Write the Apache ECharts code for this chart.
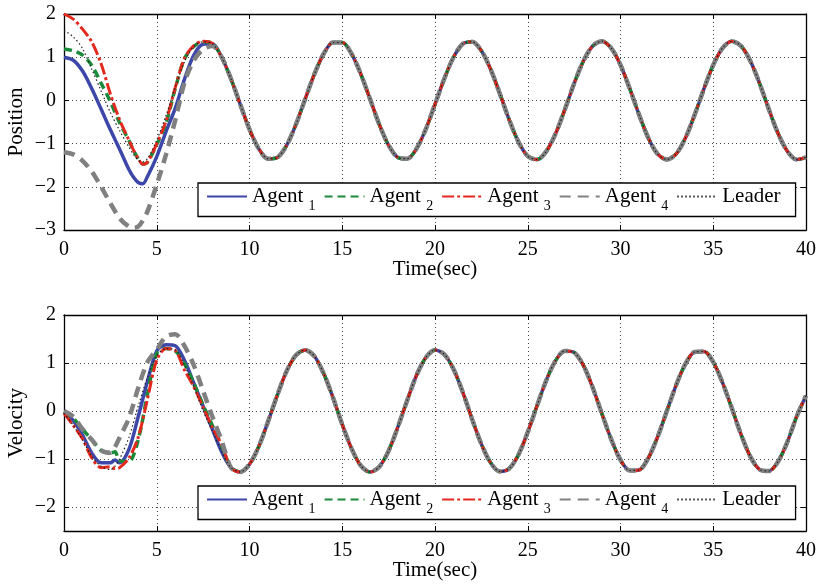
<!DOCTYPE html>
<html>
<head>
<meta charset="utf-8">
<script src="https://cdn.jsdelivr.net/npm/echarts@6/dist/echarts.min.js"></script>
<style>
  html, body { margin: 0; background: #fff; }
  #chart { width: 816px; height: 585px; }
</style>
</head>
<body>
<div id="chart"></div>
<script>
// ---- data ----
const seriesNames = ["Agent1", "Agent2", "Agent3", "Agent4", "Leader"];

// position panel
const posTimeEarly = [0, 0.5, 1, 1.5, 2, 2.5, 3, 3.5, 3.75, 4, 4.25, 4.5, 5, 5.5, 6, 6.5, 7, 7.5, 8];
const agent1PosEarly = [1.00, 0.93, 0.68, 0.27, -0.20, -0.68, -1.13, -1.60, -1.78, -1.90, -1.93, -1.76, -1.30, -0.72, -0.18, 0.50, 1.05, 1.30, 1.31];
const agent2PosEarly = [1.19, 1.15, 1.05, 0.81, 0.40, -0.03, -0.52, -0.93, -1.16, -1.35, -1.47, -1.43, -1.02, -0.53, 0.28, 0.97, 1.25, 1.36, 1.32];
const agent3PosEarly = [2.00, 1.88, 1.65, 1.35, 0.85, 0.15, -0.45, -0.92, -1.15, -1.35, -1.48, -1.43, -1.00, -0.48, 0.30, 0.98, 1.27, 1.37, 1.32];
const agent4PosEarly = [-1.20, -1.25, -1.40, -1.65, -2.00, -2.38, -2.73, -2.92, -2.95, -2.92, -2.78, -2.57, -1.95, -1.25, -0.45, 0.42, 0.93, 1.18, 1.26];
const leaderPosEarly = [1.62, 1.47, 1.20, 0.72, 0.22, -0.28, -0.70, -1.08, -1.25, -1.38, -1.42, -1.35, -0.92, -0.35, 0.30, 0.90, 1.25, 1.36, 1.31];
// after ~8 s every curve sits on the leader
const posTimeSteady = [8.5, 9, 9.5, 10, 10.5, 11, 11.5, 12, 12.5, 13, 13.5, 14, 14.5, 15, 15.5, 16, 16.5, 17, 17.5, 18, 18.5, 19, 19.5, 20,
  20.5, 21, 21.5, 22, 22.5, 23, 23.5, 24, 24.5, 25, 25.5, 26, 26.5, 27, 27.5, 28, 28.5, 29, 29.5, 30,
  30.5, 31, 31.5, 32, 32.5, 33, 33.5, 34, 34.5, 35, 35.5, 36, 36.5, 37, 37.5, 38, 38.5, 39, 39.5, 40];
const posSteady = [1.00, 0.50, -0.09, -0.67, -1.12, -1.35, -1.32, -1.04, -0.56, 0.03, 0.61, 1.08, 1.34, 1.34, 1.08, 0.61, 0.03, -0.56, -1.04, -1.32, -1.35, -1.12, -0.67, -0.09,
  0.50, 1.00, 1.31, 1.36, 1.15, 0.72, 0.15, -0.45, -0.96, -1.29, -1.37, -1.18, -0.77, -0.21, 0.39, 0.91, 1.26, 1.37, 1.21, 0.82,
  0.27, -0.33, -0.87, -1.24, -1.37, -1.24, -0.87, -0.33, 0.27, 0.82, 1.21, 1.37, 1.26, 0.91, 0.39, -0.21, -0.77, -1.18, -1.37, -1.32];

// velocity panel
const velTimeEarly = [0, 0.5, 1, 1.5, 2, 2.5, 2.75, 3, 3.5, 4, 4.5, 5, 5.5, 6, 6.5, 7, 7.5, 8, 8.5];
const agent1VelEarly = [-0.02, -0.20, -0.50, -0.88, -1.08, -1.08, -1.02, -1.08, -0.80, -0.12, 0.62, 1.25, 1.38, 1.36, 1.05, 0.58, 0.10, -0.38, -0.85];
const agent2VelEarly = [-0.02, -0.15, -0.38, -0.60, -0.82, -0.88, -0.85, -1.04, -1.05, -0.60, 0.35, 1.20, 1.30, 1.25, 0.98, 0.58, 0.12, -0.30, -0.72];
const agent3VelEarly = [-0.05, -0.30, -0.58, -0.98, -1.18, -1.16, -1.20, -1.18, -0.98, -0.55, 0.25, 1.06, 1.30, 1.26, 0.85, 0.50, 0.08, -0.35, -0.70];
const agent4VelEarly = [0.00, -0.12, -0.38, -0.60, -0.82, -0.87, -0.75, -0.55, -0.15, 0.48, 1.02, 1.28, 1.55, 1.60, 1.35, 0.95, 0.42, -0.12, -0.62];
const leaderVelEarly = [-0.05, -0.30, -0.60, -0.95, -1.15, -1.22, -1.15, -1.00, -0.55, 0.10, 0.70, 1.15, 1.30, 1.27, 0.95, 0.50, 0.00, -0.42, -0.85];
const velTimeSteady = [9, 9.5, 10, 10.5, 11, 11.5, 12, 12.5, 13, 13.5, 14, 14.5, 15, 15.5, 16, 16.5, 17, 17.5, 18, 18.5, 19, 19.5, 20,
  20.5, 21, 21.5, 22, 22.5, 23, 23.5, 24, 24.5, 25, 25.5, 26, 26.5, 27, 27.5, 28, 28.5, 29, 29.5, 30,
  30.5, 31, 31.5, 32, 32.5, 33, 33.5, 34, 34.5, 35, 35.5, 36, 36.5, 37, 37.5, 38, 38.5, 39, 39.5, 40];
const velSteady = [-1.18, -1.27, -1.11, -0.74, -0.22, 0.33, 0.83, 1.16, 1.27, 1.14, 0.78, 0.28, -0.28, -0.78, -1.14, -1.27, -1.16, -0.83, -0.33, 0.22, 0.74, 1.11, 1.27,
  1.18, 0.87, 0.39, -0.17, -0.69, -1.08, -1.26, -1.20, -0.91, -0.44, 0.11, 0.64, 1.05, 1.25, 1.22, 0.95, 0.49, -0.06, -0.59, -1.02,
  -1.24, -1.23, -0.98, -0.54, 0.00, 0.54, 0.98, 1.23, 1.24, 1.02, 0.59, 0.06, -0.49, -0.95, -1.22, -1.25, -1.05, -0.64, -0.11, 0.32];

// ---- styles ----
const FONT = "Liberation Serif";
const lineStyles = [
  { color: "#3d46a9", width: 3.5, type: "solid" },
  { color: "#1b8a3a", width: 3.5, type: [8, 5] },
  { color: "#e3281e", width: 3, type: [12, 3, 3, 3] },
  { color: "#808080", width: 4.5, type: [11, 7] },
  { color: "#222222", width: 1.2, type: [1.5, 2.5] }
];

function toPairs(times, values) {
  return times.map((t, i) => [t, values[i]]);
}

const posData = [agent1PosEarly, agent2PosEarly, agent3PosEarly, agent4PosEarly, leaderPosEarly]
  .map(early => toPairs(posTimeEarly.concat(posTimeSteady), early.concat(posSteady)));
const velData = [agent1VelEarly, agent2VelEarly, agent3VelEarly, agent4VelEarly, leaderVelEarly]
  .map(early => toPairs(velTimeEarly.concat(velTimeSteady), early.concat(velSteady)));

const minus = v => String(v).replace("-", "\u2212");

function xAxes(gridIndex) {
  const common = {
    gridIndex, type: "value", min: 0, max: 40, interval: 5,
    axisLine: { show: true, onZero: false, lineStyle: { color: "#000", width: 1.3 } },
    axisTick: { inside: true, length: 5, lineStyle: { color: "#000" } }
  };
  return [
    Object.assign({}, common, {
      position: "bottom",
      axisLabel: { color: "#000", fontFamily: FONT, fontSize: 20, margin: 10 },
      splitLine: { show: true, lineStyle: { color: "#444", width: 1, type: [1, 3] } },
      name: "Time(sec)", nameLocation: "middle", nameGap: 29, nameMoveOverlap: false,
      nameTextStyle: { color: "#000", fontFamily: FONT, fontSize: 21 }
    }),
    Object.assign({}, common, { position: "top", axisLabel: { show: false }, splitLine: { show: false } })
  ];
}

function yAxes(gridIndex, min, max, name) {
  const common = {
    gridIndex, type: "value", min, max,
    axisLine: { show: true, onZero: false, lineStyle: { color: "#000", width: 1.3 } },
    axisTick: { inside: true, length: 5, lineStyle: { color: "#000" } }
  };
  return [
    Object.assign({}, common, {
      position: "left",
      axisLabel: { color: "#000", fontFamily: FONT, fontSize: 20, margin: 8, formatter: minus, showMinLabel: min === -3 },
      splitLine: { show: true, lineStyle: { color: "#444", width: 1, type: [1, 3] } },
      name, nameLocation: "middle", nameGap: 37, nameMoveOverlap: false,
      nameTextStyle: { color: "#000", fontFamily: FONT, fontSize: 21 }
    }),
    Object.assign({}, common, { position: "right", axisLabel: { show: false }, splitLine: { show: false } })
  ];
}

function legendAt(top) {
  return {
    top, left: 198,
    orient: "horizontal",
    data: seriesNames,
    selectedMode: false,
    itemWidth: 40, itemHeight: 14, itemGap: 8,
    padding: [3, 15, 3, 8],
    borderColor: "#000", borderWidth: 1.3, backgroundColor: "#fff",
    itemStyle: { opacity: 0 },
    formatter: name => name === "Leader" ? "{a|Leader}" : "{a|Agent }{s|" + name.slice(5) + "}",
    textStyle: {
      color: "#000",
      rich: {
        a: { fontFamily: FONT, fontSize: 21, color: "#000" },
        s: { fontFamily: FONT, fontSize: 14, color: "#000", padding: [20, 0, 0, 0] }
      }
    }
  };
}

const series = [];
[posData, velData].forEach((panel, p) => {
  panel.forEach((data, i) => {
    series.push({
      name: seriesNames[i], type: "line",
      xAxisIndex: p * 2, yAxisIndex: p * 2,
      data, smooth: 0.3, symbol: "none",
      lineStyle: lineStyles[i], itemStyle: { color: lineStyles[i].color },
      z: 2 + i
    });
  });
});

const chart = echarts.init(document.getElementById("chart"), null, { renderer: "canvas" });
chart.setOption({
  backgroundColor: "#fff",
  animation: false,
  grid: [
    { left: 64, right: 10, top: 14, height: 216, containLabel: false, outerBoundsMode: "none" },
    { left: 64, right: 10, top: 315, height: 216, containLabel: false, outerBoundsMode: "none" }
  ],
  xAxis: xAxes(0).concat(xAxes(1)),
  yAxis: yAxes(0, -3, 2, "Position").concat(yAxes(1, -2.5, 2, "Velocity")),
  legend: [legendAt(183), legendAt(486)],
  series
});
</script>
</body>
</html>
